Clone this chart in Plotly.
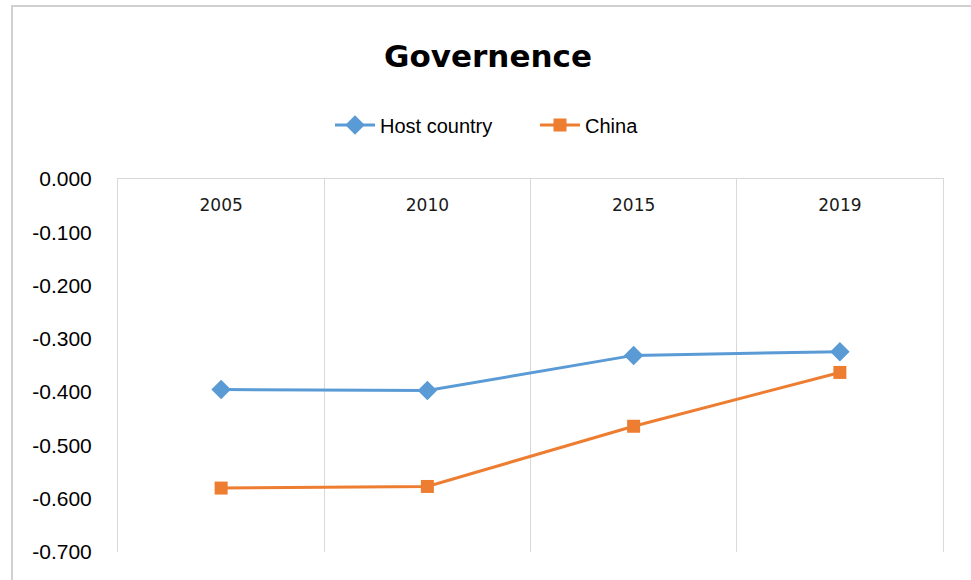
import plotly.graph_objects as go

years = ["2005", "2010", "2015", "2019"]
host_country = [-0.395, -0.397, -0.331, -0.324]
china = [-0.580, -0.577, -0.464, -0.363]
y_ticks = [0.0, -0.1, -0.2, -0.3, -0.4, -0.5, -0.6, -0.7]
y_ticktext = ["0.000", "-0.100", "-0.200", "-0.300", "-0.400", "-0.500", "-0.600", "-0.700"]

BLUE = "#5B9BD5"
ORANGE = "#ED7D31"
GRID = "#D9D9D9"
FONT = "Liberation Sans"

fig = go.Figure()
fig.add_trace(go.Scatter(
    x=years, y=host_country, name="Host country", mode="lines+markers",
    line=dict(color=BLUE, width=3),
    marker=dict(symbol="diamond", size=15, color=BLUE),
))
fig.add_trace(go.Scatter(
    x=years, y=china, name="China", mode="lines+markers",
    line=dict(color=ORANGE, width=3),
    marker=dict(symbol="square", size=13, color=ORANGE),
))

L, R, T, B = 118, 28, 179, 28
W, H = 971, 580
pw, ph = W - L - R, H - T - B

fig.update_layout(
    width=W, height=H,
    margin=dict(l=L, r=R, t=T, b=B),
    paper_bgcolor="white", plot_bgcolor="white",
    font=dict(family=FONT, color="#000000"),
    title=dict(text="<b>Governence</b>", x=488 / W, xanchor="center",
               y=1 - 56 / H, yanchor="middle",
               font=dict(size=31, family="DejaVu Sans", color="#000000")),
    showlegend=True,
    legend=dict(orientation="h", x=535 / W, xref="container", xanchor="center",
                y=1 - 125 / H, yref="container", yanchor="middle",
                font=dict(size=20, family=FONT, color="#000000"),
                itemwidth=40, tracegroupgap=0, entrywidth=150),
    xaxis=dict(type="category", side="top", tickson="boundaries",
               range=[-0.5, len(years) - 0.5],
               showgrid=True, gridcolor=GRID, gridwidth=1,
               showline=True, linecolor=GRID, linewidth=1,
               ticks="", ticklabelstandoff=-40,
               tickfont=dict(size=17, family="DejaVu Sans", color="#1a1a1a"),
               zeroline=False, fixedrange=True),
    yaxis=dict(range=[-0.7, 0.0], tickvals=y_ticks, ticktext=y_ticktext,
               showgrid=False, zeroline=False,
               showline=True, mirror=True, linecolor=GRID, linewidth=1,
               ticks="", ticklabelstandoff=21,
               tickfont=dict(size=21, family=FONT, color="#000000")),
    shapes=[dict(type="rect", xref="paper", yref="paper",
                 x0=(12 - L) / pw, x1=(W + 20 - L) / pw,
                 y0=-(B + 20) / ph, y1=1 + (T - 6) / ph,
                 line=dict(color="#D0D0D0", width=2), fillcolor="rgba(0,0,0,0)",
                 layer="below")],
)

fig.write_html("out.html")
